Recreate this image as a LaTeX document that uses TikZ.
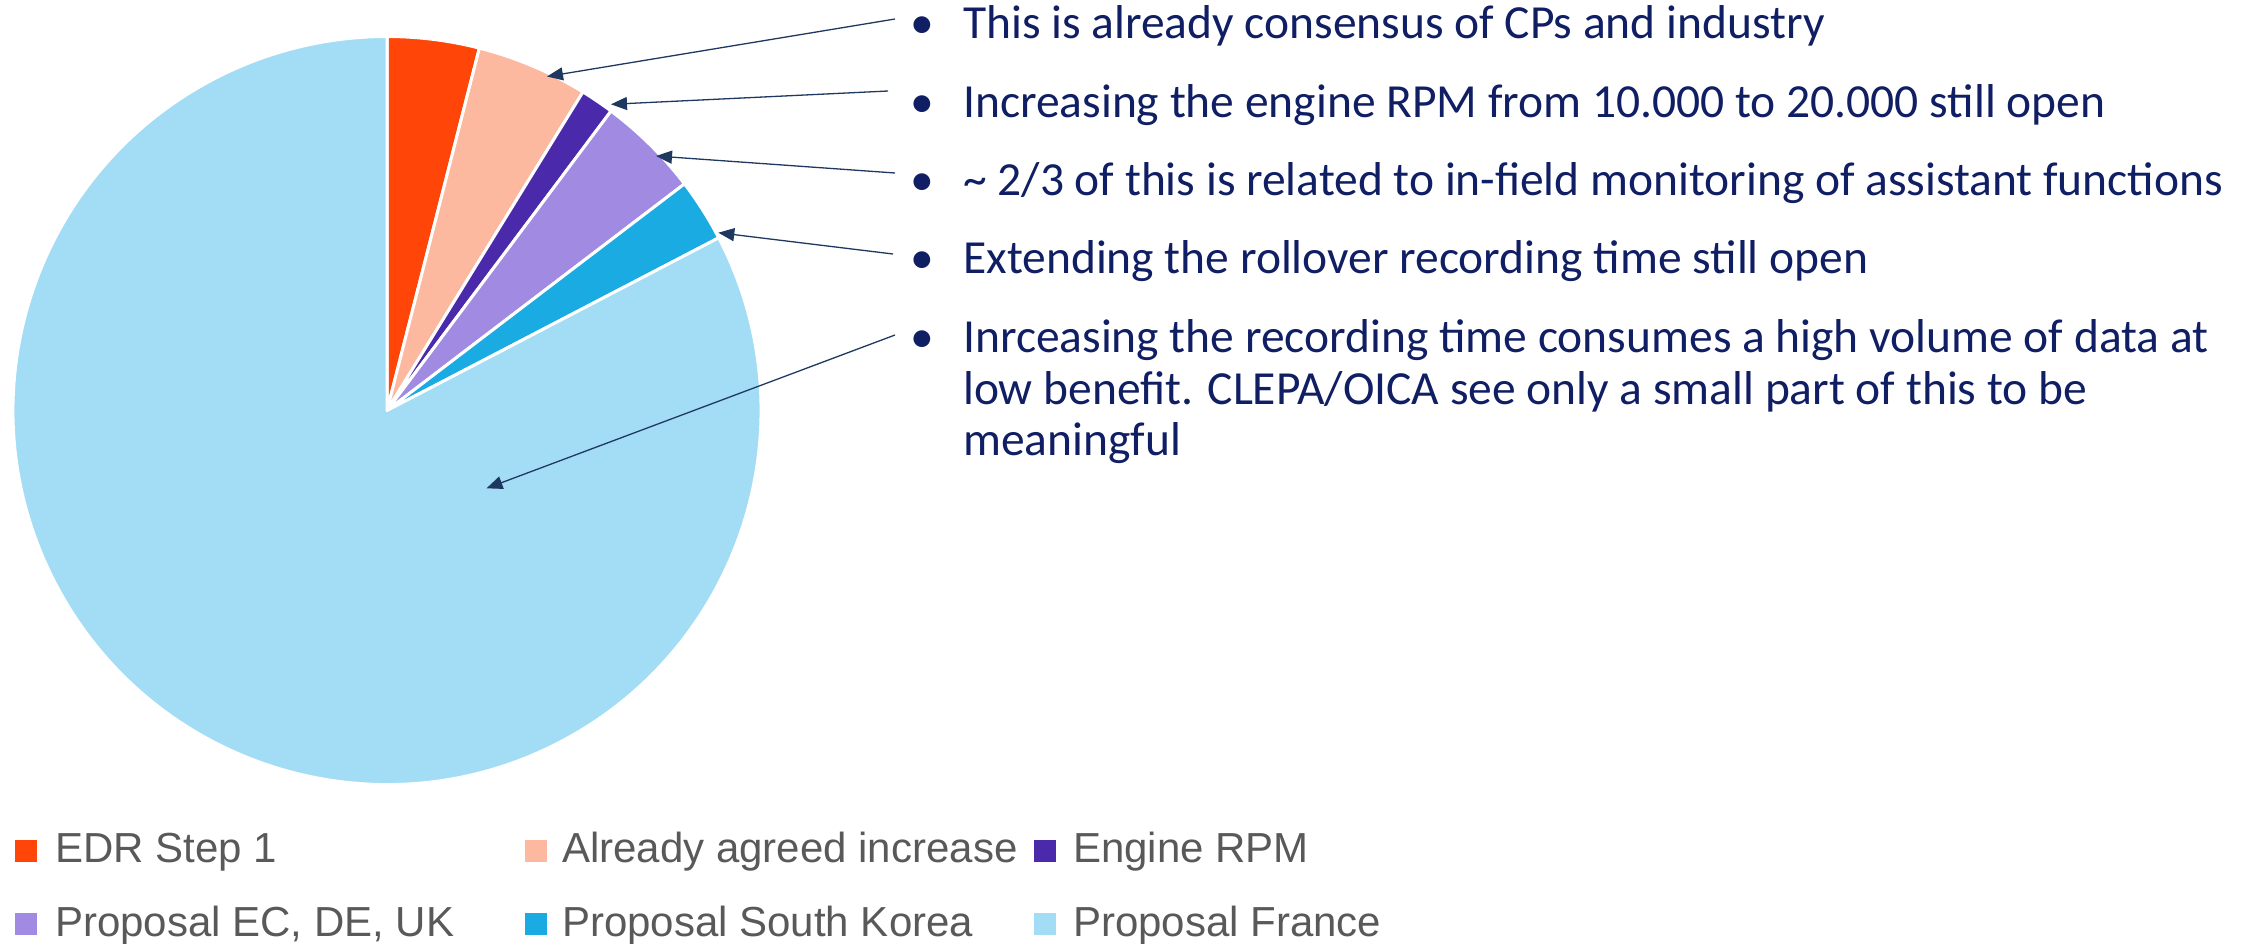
\documentclass[tikz,border=0pt]{standalone}
\usepackage{fontspec}
\setmainfont{Liberation Sans}
\newfontfamily\calib{Carlito}
\usetikzlibrary{arrows.meta}
\definecolor{cRed}{RGB}{255,69,8}
\definecolor{cPeach}{RGB}{253,184,160}
\definecolor{cPurple}{RGB}{74,42,170}
\definecolor{cLav}{RGB}{161,139,226}
\definecolor{cBlue}{RGB}{26,171,227}
\definecolor{cLight}{RGB}{163,221,245}
\definecolor{navy}{RGB}{16,30,100}
\definecolor{arrowc}{RGB}{31,56,96}
\definecolor{legtext}{RGB}{89,89,89}
\newcommand\pieslice[3]{\fill[#3, draw=white, line width=3pt, line join=round] (C) -- ++(#1:374pt) arc[start angle=#1, end angle=#2, radius=374pt] -- cycle;}
\tikzset{
  bul/.style={anchor=base, inner sep=0, text=navy, font=\calib\fontsize{47.5}{52}\selectfont},
  btext/.style={anchor=base west, inner sep=0, text=navy, font=\calib\fontsize{47.5}{52}\selectfont},
  callout/.style={draw=arrowc, line width=1.3pt, -{Triangle[length=16pt,width=13pt]}},
  legsq/.style={anchor=north west, inner sep=0, minimum width=22pt, minimum height=22pt},
  legtxt/.style={anchor=base west, inner sep=0, text=legtext, font=\fontsize{42}{48}\selectfont},
}
\begin{document}
\begin{tikzpicture}[x=1pt,y=-1pt]
\useasboundingbox (0,0) rectangle (2266,943);
\coordinate (C) at (387,410.5);
% pie
\pieslice{90}{75.7}{cRed}
\pieslice{75.7}{58.4}{cPeach}
\pieslice{58.4}{53.2}{cPurple}
\pieslice{53.2}{37.3}{cLav}
\pieslice{37.3}{27.5}{cBlue}
\pieslice{27.5}{-270}{cLight}
% bullets and texts
\node[bul] (b1) at (922,38) {•};
\node[btext] (t1) at (963,38) {This is already consensus of CPs and industry};
\node[bul] (b2) at (922,117) {•};
\node[btext] (t2) at (963,117) {Increasing the engine RPM from 10.000 to 20.000 still open};
\node[bul] (b3) at (922,195) {•};
\node[btext] (t3) at (963,195) {\textasciitilde{} 2/3 of this is related to in-field monitoring of assistant functions};
\node[bul] (b4) at (922,273) {•};
\node[btext] (t4) at (963,273) {Extending the rollover recording time still open};
\node[bul] (b5) at (922,352) {•};
\node[btext] (t5a) at (963,352) {Inrceasing the recording time consumes a high volume of data at};
\node[btext] (t5b) at (963,404) {low benefit. CLEPA/OICA see only a small part of this to be};
\node[btext] (t5c) at (963,455) {meaningful};
% callout arrows
\coordinate (s1) at (895,19);
\coordinate (s2) at (888,91);
\coordinate (s3) at (895,173);
\coordinate (s4) at (893,254);
\coordinate (s5) at (895,335);
\coordinate (e1) at (547,76.5);
\coordinate (e2) at (611,104.3);
\coordinate (e3) at (656,156);
\coordinate (e4) at (718.3,232.7);
\coordinate (e5) at (486.5,488.3);
\draw[callout] (s1) -- (e1);
\draw[callout] (s2) -- (e2);
\draw[callout] (s3) -- (e3);
\draw[callout] (s4) -- (e4);
\draw[callout] (s5) -- (e5);
% legend
\node[legsq, fill=cRed] (l1) at (15,840) {};
\node[legtxt] (lt1) at (55,862) {EDR Step 1};
\node[legsq, fill=cPeach] (l2) at (525,840) {};
\node[legtxt] (lt2) at (562,862) {Already agreed increase};
\node[legsq, fill=cPurple] (l3) at (1034,840) {};
\node[legtxt] (lt3) at (1073,862) {Engine RPM};
\node[legsq, fill=cLav] (l4) at (15,913) {};
\node[legtxt] (lt4) at (55,936) {Proposal EC, DE, UK};
\node[legsq, fill=cBlue] (l5) at (525,913) {};
\node[legtxt] (lt5) at (562,936) {Proposal South Korea};
\node[legsq, fill=cLight] (l6) at (1034,913) {};
\node[legtxt] (lt6) at (1073,936) {Proposal France};
\end{tikzpicture}
\end{document}
